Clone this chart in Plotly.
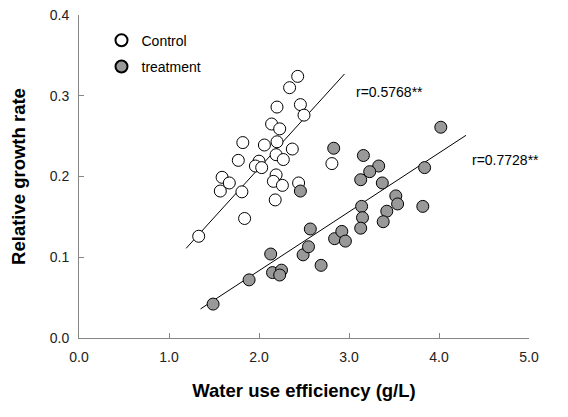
import plotly.graph_objects as go

# Control (open circles)
ctrlX = [2.43, 2.34, 2.20, 2.46, 2.50, 2.14, 2.23, 1.82, 2.06, 2.20, 2.37, 2.19, 2.27, 1.77, 2.00,
         1.96, 2.03, 1.59, 1.67, 1.57, 1.81, 2.19, 2.16, 2.26, 2.44, 2.18, 1.84, 1.33, 2.81]
ctrlY = [0.324, 0.310, 0.286, 0.289, 0.276, 0.265, 0.259, 0.242, 0.239, 0.243, 0.234, 0.227, 0.221, 0.220, 0.219,
         0.213, 0.211, 0.199, 0.192, 0.182, 0.181, 0.202, 0.194, 0.189, 0.192, 0.171, 0.148, 0.126, 0.216]

# treatment (grey circles)
trtX = [1.49, 1.89, 2.13, 2.15, 2.25, 2.23, 2.49, 2.55, 2.57, 2.69, 2.84, 2.92, 2.96, 4.02, 3.16,
        3.33, 3.23, 3.13, 3.37, 3.84, 3.52, 3.54, 3.82, 3.14, 3.15, 3.42, 3.38, 3.13, 2.83, 2.46]
trtY = [0.042, 0.072, 0.104, 0.081, 0.084, 0.078, 0.103, 0.113, 0.135, 0.090, 0.123, 0.132, 0.120, 0.261, 0.226,
        0.213, 0.206, 0.196, 0.192, 0.211, 0.176, 0.166, 0.163, 0.163, 0.149, 0.157, 0.144, 0.136, 0.235, 0.182]

# fitted lines (end points)
ctrlFitX = [1.19, 2.95]
ctrlFitY = [0.111, 0.327]
trtFitX = [1.35, 4.30]
trtFitY = [0.036, 0.251]

ctrlR = 'r=0.5768**'
trtR = 'r=0.7728**'

fontFam = 'Arial, Liberation Sans, sans-serif'
axisCol = '#868686'

fig = go.Figure()

fig.add_trace(go.Scatter(x=ctrlFitX, y=ctrlFitY, mode='lines',
                         line=dict(color='black', width=1), showlegend=False))
fig.add_trace(go.Scatter(x=trtFitX, y=trtFitY, mode='lines',
                         line=dict(color='black', width=1), showlegend=False))

fig.add_trace(go.Scatter(x=ctrlX, y=ctrlY, mode='markers', name='Control', legendgroup='c',
                         marker=dict(size=12, color='white', line=dict(color='black', width=1))))
fig.add_trace(go.Scatter(x=trtX, y=trtY, mode='markers', name='treatment', legendgroup='t',
                         marker=dict(size=12, color='#999999', line=dict(color='black', width=1))))

fig.add_annotation(x=3.06, y=0.305, text=ctrlR, showarrow=False, xanchor='left',
                   font=dict(size=14, color='black'))
fig.add_annotation(x=4.34, y=0.221, text=trtR, showarrow=False, xanchor='left',
                   font=dict(size=14, color='black'))

# page body keeps an 8px margin, so the figure is 16px smaller than the window
fig.update_layout(
    width=552, height=401,
    margin=dict(l=71, r=31, t=7, b=71),
    paper_bgcolor='white',
    plot_bgcolor='white',
    font=dict(family=fontFam, size=14, color='#222'),
    xaxis=dict(
        range=[0, 5], dtick=1, tickformat='.1f', automargin=False,
        showgrid=False, zeroline=False,
        showline=True, linecolor=axisCol, linewidth=1,
        ticks='inside', ticklen=5, tickcolor=axisCol, ticklabelstandoff=6,
        title=dict(text='<b>Water use efficiency (g/L)</b>', font=dict(size=18.5, color='black'), standoff=20)
    ),
    yaxis=dict(
        range=[0, 0.4], dtick=0.1, tickformat='.1f', automargin=False,
        showgrid=False, zeroline=False,
        showline=True, linecolor=axisCol, linewidth=1,
        ticks='inside', ticklen=5, tickcolor=axisCol, ticklabelstandoff=6,
        ticklabeloverflow='allow',
        title=dict(text='<b>Relative growth rate</b>', font=dict(size=18.5, color='black'), standoff=20)
    ),
    legend=dict(
        x=0.05, y=0.97, xanchor='left', yanchor='top',
        bgcolor='rgba(0,0,0,0)', font=dict(size=14, color='black'),
        itemwidth=30, tracegroupgap=5, itemsizing='constant'
    )
)

fig.write_html("out.html")
